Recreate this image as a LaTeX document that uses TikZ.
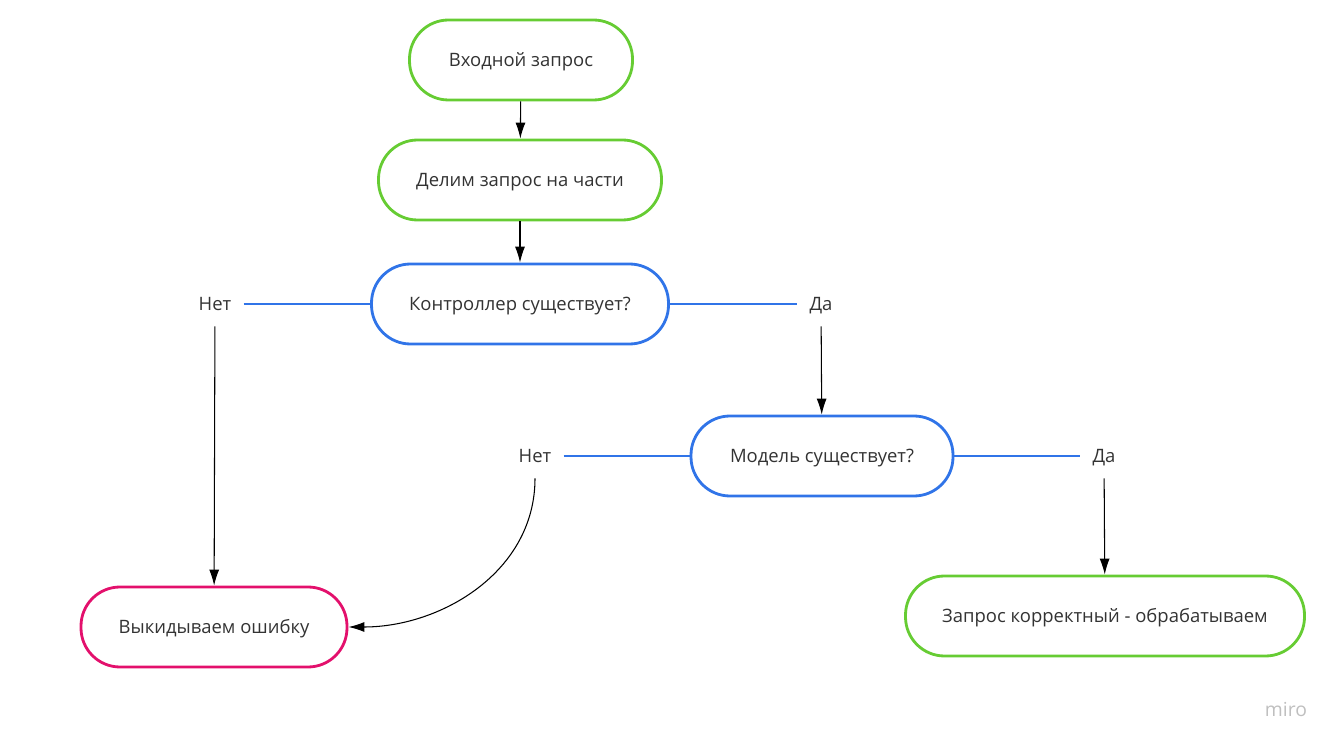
\documentclass[tikz,border=0pt]{standalone}
\usepackage{fontspec}
\setmainfont{Open Sans}
\usepackage{xcolor}
\usetikzlibrary{arrows.meta}

\definecolor{vert}{HTML}{66CC33}
\definecolor{bleu}{HTML}{3074E8}
\definecolor{rose}{HTML}{E3106C}
\definecolor{texte}{HTML}{333333}

\begin{document}
\begin{tikzpicture}
    \tikzset{etape/.style={draw,rectangle,rounded corners=0.78cm,line width=1.6pt,minimum height=1.6cm,text=texte,text height=0.75em,text depth=0.05em,font=\fontsize{10.5}{12}\selectfont},
             choix/.style={text=texte,inner xsep=0.24cm,inner ysep=0.3cm,text height=0.75em,text depth=0.05em,font=\fontsize{10.5}{12}\selectfont}}
    \tikzstyle{fleche}=[->,>={Latex[length=3.2mm,width=2mm]},line width=0.6pt,black]
    \tikzstyle{branche}=[bleu,line width=1.6pt]
    \useasboundingbox (0,0) rectangle (26.76,14.92);

    \node[etape,draw=vert,minimum width=4.46cm] (IN) at (10.42,13.72) {Входной запрос};
    \node[etape,draw=vert,minimum width=5.66cm] (SPLIT) at (10.40,11.32) {Делим запрос на части};
    \draw[fleche] (IN)--(SPLIT);

    \node[etape,draw=bleu,minimum width=5.94cm] (CTRL) at (10.40,8.84) {Контроллер существует?};
    \draw[fleche] (SPLIT)--(CTRL);
    \node[choix] (CTRLNO) at (4.30,8.84) {Нет};
    \node[choix] (CTRLYES) at (16.42,8.84) {Да};
    \draw[branche] (CTRLNO)--(CTRL);
    \draw[branche] (CTRL)--(CTRLYES);

    \node[etape,draw=bleu,minimum width=5.24cm] (MOD) at (16.44,5.80) {Модель существует?};
    \draw[fleche] (CTRLYES)--(MOD);
    \node[choix] (MODNO) at (10.70,5.80) {Нет};
    \node[choix] (MODYES) at (22.08,5.80) {Да};
    \draw[branche] (MODNO)--(MOD);
    \draw[branche] (MOD)--(MODYES);

    \node[etape,draw=vert,minimum width=7.98cm] (OK) at (22.10,2.60) {Запрос корректный - обрабатываем};
    \node[etape,draw=rose,minimum width=5.32cm] (ERR) at (4.28,2.38) {Выкидываем ошибку};
    \draw[fleche] (MODYES)--(OK);
    \draw[fleche] (CTRLNO)--(ERR);
    \draw[fleche] (MODNO.south) to[out=-90,in=0] (ERR.east);

    \node[text=black!25,font=\fontsize{11}{12}\selectfont] (MIRO) at (25.72,0.74) {miro};
  \end{tikzpicture}
\end{document}
